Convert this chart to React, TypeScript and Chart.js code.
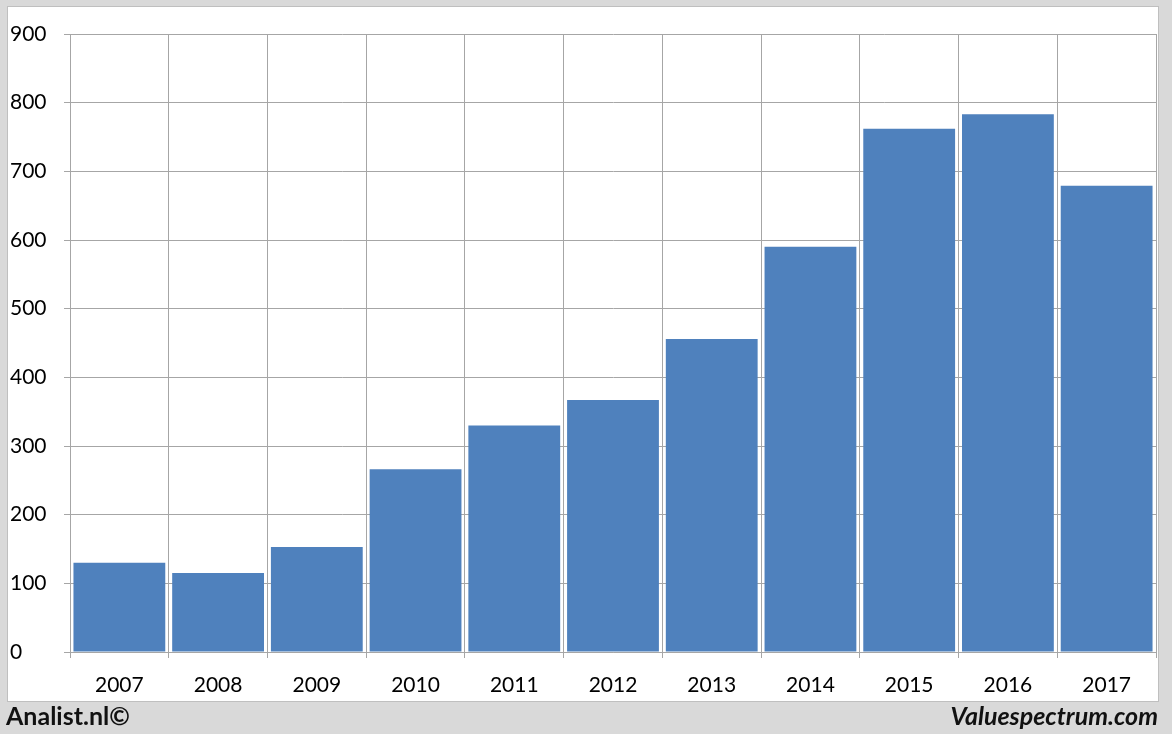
import React, { useEffect, useRef } from "react";
import { Chart, registerables } from "chart.js";

Chart.register(...registerables);

const categories = ["2007", "2008", "2009", "2010", "2011", "2012", "2013", "2014", "2015", "2016", "2017"];
const values = [130, 115, 153, 266, 330, 367, 456, 590, 762, 783, 679];
const yTicks = [0, 100, 200, 300, 400, 500, 600, 700, 800, 900];

const FONT = "Lato, 'Open Sans', sans-serif";
const GRID = "#a6a6a6";

export default function App() {
  const ref = useRef<HTMLCanvasElement | null>(null);

  useEffect(() => {
    if (!ref.current) return;
    const chart = new Chart(ref.current, {
      type: "bar",
      data: {
        labels: categories,
        datasets: [
          {
            data: values,
            backgroundColor: "#4f81bd",
            borderWidth: 0,
            barPercentage: 0.93,
            categoryPercentage: 1,
          },
        ],
      },
      options: {
        responsive: false,
        animation: false,
        events: [],
        layout: { padding: { left: 2, right: 2, top: 27, bottom: 0 } },
        plugins: { legend: { display: false }, tooltip: { enabled: false } },
        scales: {
          x: {
            grid: { color: GRID, offset: true, tickLength: 6, drawOnChartArea: true },
            border: { color: GRID },
            ticks: { color: "#000", font: { family: FONT, size: 21 }, padding: 15 },
            afterFit: (s: any) => {
              s.height = 49;
            },
          },
          y: {
            min: 0,
            max: 900,
            afterBuildTicks: (s: any) => {
              s.ticks = yTicks.map((v) => ({ value: v }));
            },
            grid: { color: GRID, tickLength: 6 },
            border: { color: GRID },
            ticks: { color: "#000", font: { family: FONT, size: 21 }, crossAlign: "far" },
            afterFit: (s: any) => {
              s.width = 60;
            },
          },
        },
      },
    });
    return () => chart.destroy();
  }, []);

  return (
    <div style={{ position: "fixed", left: 0, top: 0, width: 1172, height: 734, background: "#d9d9d9", overflow: "hidden" }}>
      <div
        style={{
          position: "absolute",
          left: 7,
          top: 6,
          width: 1150,
          height: 694,
          background: "#fff",
          border: "1px solid #bfbfbf",
        }}
      >
        <canvas ref={ref} width={1150} height={694} style={{ display: "block" }} />
      </div>
      <div style={{ position: "absolute", left: 6, top: 700, fontFamily: FONT, fontWeight: 700, fontSize: 25, color: "#111" }}>
        Analist.nl©
      </div>
      <div
        style={{
          position: "absolute",
          right: 14,
          top: 700,
          fontFamily: FONT,
          fontWeight: 700,
          fontStyle: "italic",
          fontSize: 25,
          color: "#111",
        }}
      >
        Valuespectrum.com
      </div>
    </div>
  );
}
